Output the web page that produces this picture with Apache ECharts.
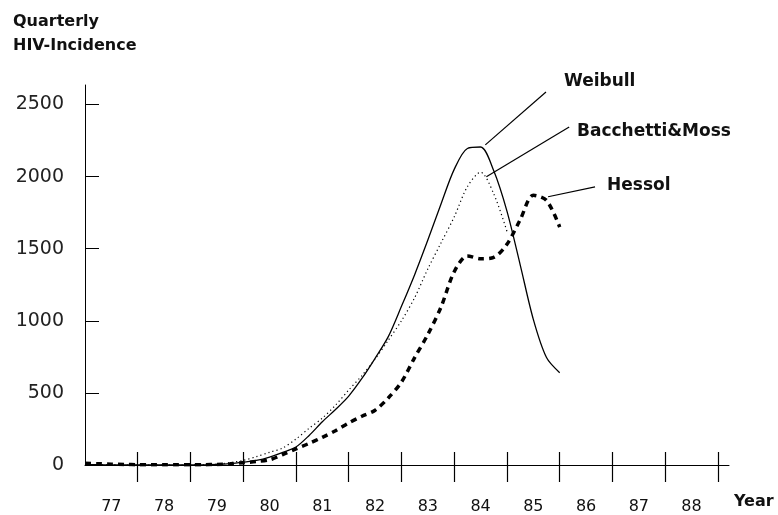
<!DOCTYPE html>
<html>
<head>
<meta charset="utf-8">
<script src="https://cdn.jsdelivr.net/npm/echarts@6/dist/echarts.min.js"></script>
<style>
  html, body { margin: 0; padding: 0; background: #fff; }
  #chart { width: 778px; height: 515px; }
</style>
</head>
<body>
<div id="chart"></div>
<script>
// quarterly time points (year, fractional)
const quarters = [
  77.0, 77.25, 77.5, 77.75, 78.0, 78.25, 78.5, 78.75, 79.0, 79.25, 79.5, 79.75,
  80.0, 80.25, 80.5, 80.75, 81.0, 81.25, 81.5, 81.75, 82.0, 82.25, 82.5, 82.75,
  83.0, 83.25, 83.5, 83.75, 84.0, 84.25, 84.5, 84.75, 85.0, 85.25, 85.5, 85.75, 86.0
];

// values
const weibull = [
  2, 2, 1, 1, 0, 0, 0, 0, 0, 1, 4, 10,
  20, 32, 55, 88, 125, 205, 300, 385, 478, 600, 740, 890,
  1100, 1320, 1560, 1810, 2050, 2195, 2205, 2040, 1760, 1390, 1010, 745, 640
];
const bacchetti = [
  1, 1, 1, 0, 0, 0, 0, 0, 0, 2, 6, 16,
  32, 58, 88, 118, 180, 255, 325, 415, 520, 620, 735, 865,
  1000, 1160, 1360, 1540, 1720, 1930, 2030, 1880, 1620
];
const hessol = [
  12, 9, 6, 4, 2, 1, 1, 1, 1, 2, 4, 8,
  16, 24, 36, 72, 112, 150, 192, 238, 292, 338, 380, 465,
  575, 745, 905, 1095, 1340, 1450, 1430, 1440, 1530, 1700, 1870, 1835, 1650
];

const yearLabels = ['77', '78', '79', '80', '81', '82', '83', '84', '85', '86', '87', '88'];
const yTicks = [0, 500, 1000, 1500, 2000, 2500];

// leader lines from curves to their names: [[year, value], [year, value]]
const leaders = [
  [[84.59, 2220], [85.74, 2586]],
  [[84.61, 1999], [86.18, 2344]],
  [[85.78, 1860], [86.67, 1929]]
];

const zip = (xs, ys) => ys.map((v, i) => [xs[i], v]);

const chart = echarts.init(document.getElementById('chart'), null, { renderer: 'canvas' });

const tickYears = yearLabels.map((_, i) => 78 + i);
const labelYears = yearLabels.map((_, i) => 77.5 + i);

const baseX = {
  type: 'value',
  min: 77,
  max: 89.21,
  position: 'bottom',
  splitLine: { show: false }
};

const option = {
  backgroundColor: '#fff',
  animation: false,
  grid: { left: 85, right: 49, top: 85, bottom: 49 },
  xAxis: [
    Object.assign({}, baseX, {
      axisLine: { show: true, lineStyle: { color: '#000', width: 1 } },
      axisTick: { show: true, customValues: tickYears, length: 17, inside: false,
                  lineStyle: { color: '#000', width: 1.2 } },
      axisLabel: {
        show: true,
        customValues: labelYears,
        formatter: v => yearLabels[Math.floor(v) - 77],
        margin: 34,
        fontFamily: 'DejaVu Sans',
        fontSize: 16,
        color: '#111'
      }
    }),
    Object.assign({}, baseX, {
      axisLine: { show: false },
      axisTick: { show: true, customValues: tickYears, length: 13, inside: true,
                  lineStyle: { color: '#000', width: 1.2 } },
      axisLabel: { show: false }
    })
  ],
  yAxis: {
    type: 'value',
    min: 0,
    max: 2635,
    splitLine: { show: false },
    axisLine: { show: true, lineStyle: { color: '#000', width: 1 } },
    axisTick: { show: true, inside: true, length: 14, customValues: yTicks,
                lineStyle: { color: '#000', width: 1 } },
    axisLabel: {
      customValues: yTicks,
      formatter: v => String(v),
      margin: 21,
      fontFamily: 'DejaVu Sans',
      fontSize: 19,
      color: '#222'
    }
  },
  series: [
    {
      name: 'Weibull',
      type: 'line',
      data: zip(quarters, weibull),
      showSymbol: false,
      smooth: 0.3,
      lineStyle: { color: '#000', width: 1.3 },
      z: 3,
      markLine: {
        silent: true,
        symbol: ['none', 'none'],
        label: { show: false },
        lineStyle: { color: '#000', width: 1.2, type: 'solid' },
        data: leaders.map(l => [{ coord: l[0] }, { coord: l[1] }])
      }
    },
    {
      name: 'Bacchetti&Moss',
      type: 'line',
      data: zip(quarters, bacchetti),
      showSymbol: false,
      smooth: 0.3,
      lineStyle: { color: '#000', width: 1.2, type: [1.2, 3] },
      z: 2
    },
    {
      name: 'Hessol',
      type: 'line',
      data: zip(quarters, hessol),
      showSymbol: false,
      smooth: 0.3,
      lineStyle: { color: '#000', width: 3.5, type: [6, 5] },
      z: 1
    }
  ],
  graphic: [
    { type: 'text', left: 13, top: 14,
      style: { text: 'Quarterly', font: 'bold 16px "DejaVu Sans"', fill: '#111' } },
    { type: 'text', left: 13, top: 38,
      style: { text: 'HIV-Incidence', font: 'bold 16px "DejaVu Sans"', fill: '#111' } },
    { type: 'text', left: 734, top: 494,
      style: { text: 'Year', font: 'bold 16px "DejaVu Sans"', fill: '#111' } },
    { type: 'text', left: 564, top: 73,
      style: { text: 'Weibull', font: 'bold 17px "DejaVu Sans"', fill: '#111' } },
    { type: 'text', left: 577, top: 123,
      style: { text: 'Bacchetti&Moss', font: 'bold 17px "DejaVu Sans"', fill: '#111' } },
    { type: 'text', left: 607, top: 177,
      style: { text: 'Hessol', font: 'bold 17px "DejaVu Sans"', fill: '#111' } }
  ]
};

chart.setOption(option);
</script>
</body>
</html>
